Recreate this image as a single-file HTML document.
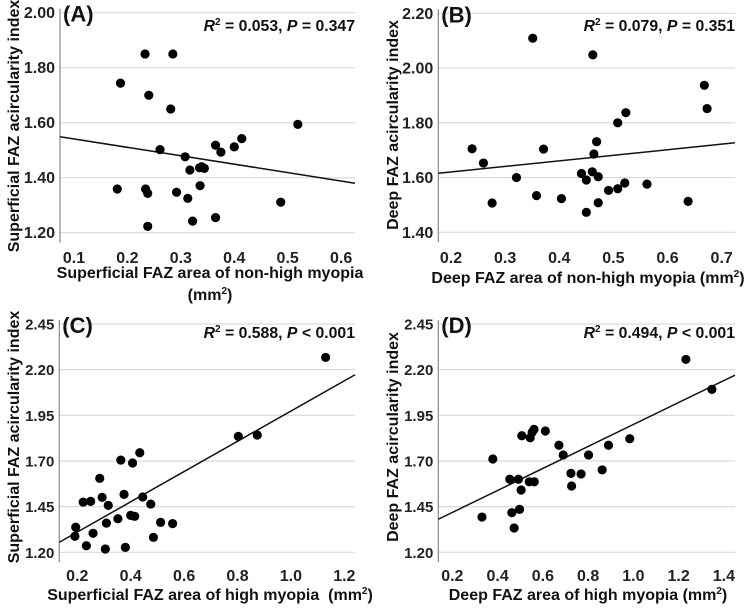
<!DOCTYPE html>
<html><head><meta charset="utf-8"><style>
html,body{margin:0;padding:0;background:#fff;}
svg{display:block;font-family:"Liberation Sans",Arial,sans-serif;font-weight:bold;}
</style></head><body>
<svg id="fig" width="749" height="611" viewBox="0 0 749 611" xmlns="http://www.w3.org/2000/svg"></svg>
<script>
// Panel A data
const aX = [0.233,0.285,0.187,0.240,0.281,0.519,0.414,0.400,0.365,0.375,0.261,0.308,0.317,0.335,0.339,0.344,0.336,0.181,0.234,0.238,0.292,0.313,0.487,0.322,0.365,0.238];
const aY = [1.85,1.85,1.744,1.70,1.65,1.594,1.542,1.512,1.518,1.493,1.502,1.476,1.428,1.436,1.44,1.434,1.371,1.359,1.359,1.343,1.347,1.325,1.311,1.242,1.255,1.223];
const aLine = [1.549,1.380];
const aXTicks = [0.1,0.2,0.3,0.4,0.5,0.6];
const aYTicks = [1.20,1.40,1.60,1.80,2.00];
// Panel B data
const bX = [0.351,0.462,0.668,0.673,0.523,0.508,0.469,0.371,0.239,0.464,0.260,0.321,0.441,0.461,0.450,0.472,0.358,0.404,0.276,0.472,0.450,0.491,0.508,0.521,0.562,0.638];
const bY = [2.109,2.048,1.937,1.852,1.837,1.80,1.731,1.704,1.705,1.686,1.653,1.60,1.615,1.621,1.591,1.603,1.534,1.523,1.507,1.508,1.473,1.553,1.559,1.58,1.576,1.513];
const bLine = [1.6155,1.727];
const bXTicks = [0.2,0.3,0.4,0.5,0.6,0.7];
const bYTicks = [1.40,1.60,1.80,2.00,2.20];
// Panel C data
const cX = [1.130,0.803,0.874,0.434,0.363,0.407,0.284,0.222,0.250,0.293,0.375,0.445,0.316,0.475,0.352,0.400,0.415,0.309,0.512,0.557,0.194,0.259,0.191,0.485,0.234,0.305,0.380];
const cY = [2.267,1.835,1.842,1.745,1.705,1.689,1.605,1.475,1.479,1.501,1.517,1.503,1.457,1.464,1.384,1.402,1.397,1.36,1.364,1.357,1.337,1.304,1.288,1.282,1.236,1.218,1.227];
const cLine = [1.255,2.172];
const cXTicks = [0.2,0.4,0.6,0.8,1.0,1.2];
const cYTicks = [1.20,1.45,1.70,1.95,2.20,2.45];
// Panel D data
const dX = [1.232,1.347,0.984,0.890,0.671,0.690,0.802,0.611,0.561,0.553,0.544,0.507,0.379,0.862,0.724,0.769,0.454,0.492,0.540,0.562,0.727,0.504,0.497,0.463,0.331,0.473];
const dY = [2.256,2.092,1.822,1.786,1.786,1.733,1.733,1.864,1.873,1.857,1.827,1.838,1.711,1.651,1.632,1.629,1.60,1.60,1.586,1.586,1.563,1.541,1.435,1.417,1.393,1.333];
const dLine = [1.381,2.170];
const dXTicks = [0.2,0.4,0.6,0.8,1.0,1.2,1.4];
const dYTicks = [1.20,1.45,1.70,1.95,2.20,2.45];

const NS = "http://www.w3.org/2000/svg";
const svg = document.getElementById('fig');
function mk(tag, attrs, parent){
  const e = document.createElementNS(NS, tag);
  for (const k in attrs) e.setAttribute(k, attrs[k]);
  (parent||svg).appendChild(e);
  return e;
}
function panel(cfg){
  const g = mk('g', {});
  
  
  const sx = v => cfg.left + (v - cfg.xmin) / (cfg.xmax - cfg.xmin) * (cfg.right - cfg.left);
  const sy = v => cfg.yb + (v - cfg.ymin) / (cfg.ymax - cfg.ymin) * (cfg.yt - cfg.yb);
  cfg.yTicks.forEach(t => {
    const gl = mk('line', {x1: cfg.left, x2: cfg.right, y1: sy(t), y2: sy(t), stroke: '#d9d9d9', 'stroke-width': 1.2}, g);
    
    
    const tl = mk('text', {x: cfg.left - 5, y: sy(t) + 5.5, 'text-anchor': 'end', 'font-size': cfg.tickFs, fill: '#222'}, g);
    tl.textContent = t.toFixed(2);
    
    
  });
  const ax = mk('line', {x1: cfg.left, x2: cfg.left, y1: cfg.yt - 4, y2: cfg.yb + 10, stroke: '#888', 'stroke-width': 1.2}, g);
  
  
  cfg.xTicks.forEach(t => {
    const tl = mk('text', {x: sx(t), y: cfg.xTickY, 'text-anchor': 'middle', 'font-size': 16, fill: '#222'}, g);
    tl.textContent = t.toFixed(1);
    
    
  });
  const ln = mk('line', {x1: cfg.left, y1: sy(cfg.line[0]), x2: cfg.right, y2: sy(cfg.line[1]), stroke: '#111', 'stroke-width': 1.5}, g);
  
  
  cfg.xs.forEach((x, i) => {
    const c = mk('circle', {cx: sx(x), cy: sy(cfg.ys[i]), r: 4.6, fill: '#000'}, g);
    
    
  });
  const lab = mk('text', {x: cfg.left + 3, y: cfg.yt + 9, 'font-size': 22, fill: '#111'}, g);
  lab.textContent = '(' + cfg.id + ')';
  
  
  const st = mk('text', {x: cfg.right, y: cfg.statY, 'text-anchor': 'end', 'font-size': 15.8, fill: '#111'}, g);
  st.innerHTML = '<tspan font-style="italic">R</tspan><tspan font-size="10" dy="-6">2</tspan><tspan dy="6"> = ' + cfg.r2 + ', </tspan><tspan font-style="italic">P</tspan><tspan> ' + cfg.p + '</tspan>';
  
  
  const yt = mk('text', {x: 0, y: 0, 'text-anchor': 'middle', 'font-size': 16, fill: '#111', transform: 'translate(' + cfg.yTitleX + ',' + cfg.yTitleY + ') rotate(-90)'}, g);
  yt.textContent = cfg.yTitle;
  
  
  cfg.xTitle.forEach((s, i) => {
    const xt = mk('text', {x: cfg.xTitleX, y: cfg.xTitleY + i * 22, 'text-anchor': 'middle', 'font-size': 16, fill: '#111'}, g);
    xt.innerHTML = s;
    
    
  });
}
panel({id:'A', xs:aX, ys:aY, line:aLine, xTicks:aXTicks, yTicks:aYTicks, left:60, right:355, xmin:0.0738, xmax:0.626, yt:12.7, yb:232.7, ymin:1.20, ymax:2.00, tickFs:16, xTickY:263, statY:31, r2:'0.053', p:'= 0.347', yTitle:'Superficial FAZ acircularity index', yTitleX:19, yTitleY:126, xTitle:['Superficial FAZ area of non-high myopia','(mm<tspan font-size="10" dy="-6">2</tspan><tspan dy="6">)</tspan>'], xTitleX:210, xTitleY:278});
panel({id:'B', xs:bX, ys:bY, line:bLine, xTicks:bXTicks, yTicks:bYTicks, left:438.3, right:735, xmin:0.1766, xmax:0.7246, yt:13.3, yb:232.3, ymin:1.40, ymax:2.20, tickFs:16, xTickY:263, statY:31, r2:'0.079', p:'= 0.351', yTitle:'Deep FAZ acircularity index', yTitleX:398, yTitleY:125, xTitle:['Deep FAZ area of non-high myopia (mm<tspan font-size="10" dy="-6">2</tspan><tspan dy="6">)</tspan>'], xTitleX:588, xTitleY:283});
panel({id:'C', xs:cX, ys:cY, line:cLine, xTicks:cXTicks, yTicks:cYTicks, left:59.3, right:355, xmin:0.1326, xmax:1.24, yt:324, yb:552.3, ymin:1.20, ymax:2.45, tickFs:15, xTickY:581, statY:338, r2:'0.588', p:'&lt; 0.001', yTitle:'Superficial FAZ acircularity index', yTitleX:19, yTitleY:437, xTitle:['Superficial FAZ area of high myopia&#160; (mm<tspan font-size="10" dy="-6">2</tspan><tspan dy="6">)</tspan>'], xTitleX:210, xTitleY:600});
panel({id:'D', xs:dX, ys:dY, line:dLine, xTicks:dXTicks, yTicks:dYTicks, left:438.3, right:735, xmin:0.138, xmax:1.449, yt:324, yb:552.3, ymin:1.20, ymax:2.45, tickFs:15, xTickY:581, statY:338, r2:'0.494', p:'&lt; 0.001', yTitle:'Deep FAZ acircularity index', yTitleX:398, yTitleY:437, xTitle:['Deep FAZ area of high myopia (mm<tspan font-size="10" dy="-6">2</tspan><tspan dy="6">)</tspan>'], xTitleX:588, xTitleY:600});
</script>
</body></html>
